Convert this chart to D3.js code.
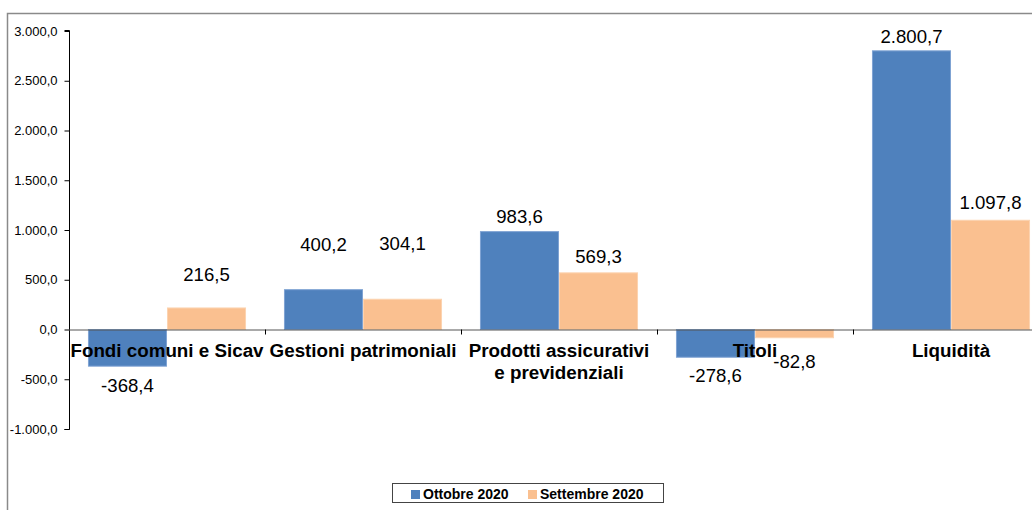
<!DOCTYPE html>
<meta charset="utf-8">
<style>
  body { margin: 0; background: #fff; }
  svg { display: block; font-family: "Liberation Sans", Arial, sans-serif; }
  .tick-label { font-size: 13px; fill: #000; }
  .value-label { font-size: 18.6px; fill: #000; }
  .cat-label { font-size: 18.8px; font-weight: bold; fill: #000; }
  .legend text { font-size: 14px; font-weight: bold; fill: #000; }
</style>
<svg width="1032" height="510"></svg>
<script src="https://d3js.org/d3.v7.min.js"></script>
<script>

  // data
  var categories = ["Fondi comuni e Sicav", "Gestioni patrimoniali", "Prodotti assicurativi\ne previdenziali", "Titoli", "Liquidità"];
  var seriesNames = ["Ottobre 2020", "Settembre 2020"];
  var ottobre = [-368.4, 400.2, 983.6, -278.6, 2800.7];
  var settembre = [216.5, 304.1, 569.3, -82.8, 1097.8];
  var yTicks = [-1000, -500, 0, 500, 1000, 1500, 2000, 2500, 3000];

  // label nudges (px away from the bar end), as placed in the original
  var gapOttobre = [26, 39, 9, 25, 8];
  var gapSettembre = [27, 49, 10, 30, 11];

  var colors = ["#4F81BD", "#FAC090"];
  var edges = ["#7FA3D3", "#FCD3B0"];

  var svg = d3.select("svg");

  var fmt = d3.formatLocale({ decimal: ",", thousands: ".", grouping: [3], currency: ["", "€"], minus: "-" });
  var tickFmt = fmt.format(",.1f");

  var x0 = d3.scaleBand()
    .domain(d3.range(categories.length))
    .range([69, 1049])
    .padding(0);

  var x1 = d3.scaleBand()
    .domain(d3.range(seriesNames.length))
    .range([0, x0.bandwidth()])
    .paddingInner(0)
    .paddingOuter(0.24);

  var y = d3.scaleLinear()
    .domain([-1000, 3000])
    .range([429, 31]);

  // outer frame (cut off at right/bottom)
  svg.append("path")
    .attr("d", "M7.5,510V13.5H1032")
    .attr("fill", "none")
    .attr("stroke", "#8a8a8a")
    .attr("stroke-width", 1.5);

  // bars
  var rows = [ottobre, settembre];
  var gaps = [gapOttobre, gapSettembre];
  var barData = [];
  rows.forEach(function (vals, s) {
    vals.forEach(function (v, i) {
      barData.push({ s: s, i: i, v: v, gap: gaps[s][i] });
    });
  });

  svg.append("g")
    .attr("class", "bars")
    .selectAll("rect")
    .data(barData)
    .enter().append("rect")
    .attr("x", function (d) { return x0(d.i) + x1(d.s) + 0.5; })
    .attr("width", x1.bandwidth() - 1)
    .attr("y", function (d) { return Math.min(y(d.v), y(0)); })
    .attr("height", function (d) { return Math.abs(y(d.v) - y(0)); })
    .attr("fill", function (d) { return colors[d.s]; })
    .attr("stroke", function (d) { return edges[d.s]; })
    .attr("stroke-width", 1);

  // y axis
  var yAxis = d3.axisLeft(y)
    .tickValues(yTicks)
    .tickSize(5)
    .tickPadding(7)
    .tickFormat(tickFmt);

  var ya = svg.append("g")
    .attr("transform", "translate(69.5,0)")
    .call(yAxis);
  ya.select(".domain").attr("stroke", "#000").attr("d", "M-5," + (y(-1000) + 0.5) + "H0V" + (y(3000) - 0.5) + "H-5");
  ya.selectAll(".tick line").attr("stroke", "#000");
  ya.selectAll(".tick text")
    .attr("class", "tick-label")
    .attr("font-family", null)
    .attr("font-size", null);

  // zero line with category ticks
  svg.append("line")
    .attr("x1", 69).attr("x2", 1032)
    .attr("y1", y(0) + 0.5).attr("y2", y(0) + 0.5)
    .attr("stroke", "#555").attr("stroke-width", 1);

  svg.append("g")
    .selectAll("line")
    .data(d3.range(1, categories.length))
    .enter().append("line")
    .attr("x1", function (d) { return Math.round(x0(d)) + 0.5; })
    .attr("x2", function (d) { return Math.round(x0(d)) + 0.5; })
    .attr("y1", y(0))
    .attr("y2", y(0) + 5)
    .attr("stroke", "#000");

  // category labels
  svg.append("g")
    .selectAll("text")
    .data(categories)
    .enter().append("text")
    .attr("class", "cat-label")
    .attr("text-anchor", "middle")
    .attr("x", function (d, i) { return x0(i) + x0.bandwidth() / 2; })
    .attr("y", 357)
    .each(function (d) {
      var t = d3.select(this);
      d.split("\n").forEach(function (line, k) {
        t.append("tspan")
          .attr("x", t.attr("x"))
          .attr("dy", k === 0 ? 0 : 22)
          .text(line);
      });
    });

  // value labels
  svg.append("g")
    .selectAll("text")
    .data(barData)
    .enter().append("text")
    .attr("class", "value-label")
    .attr("text-anchor", "middle")
    .attr("x", function (d) { return x0(d.i) + x1(d.s) + x1.bandwidth() / 2; })
    .attr("y", function (d) {
      return d.v >= 0 ? y(d.v) - d.gap : y(d.v) + d.gap;
    })
    .text(function (d) { return tickFmt(d.v); });

  // legend
  var legend = svg.append("g").attr("class", "legend");
  legend.append("rect")
    .attr("x", 392.5).attr("y", 483.5)
    .attr("width", 271).attr("height", 19)
    .attr("fill", "#fff")
    .attr("stroke", "#444").attr("stroke-width", 1);

  var legendX = [411, 528];
  var item = legend.selectAll("g.item")
    .data(seriesNames)
    .enter().append("g")
    .attr("class", "item")
    .attr("transform", function (d, i) { return "translate(" + legendX[i] + ",0)"; });
  item.append("rect")
    .attr("x", 0).attr("y", 490)
    .attr("width", 9).attr("height", 9)
    .attr("fill", function (d, i) { return colors[i]; });
  item.append("text")
    .attr("x", 12).attr("y", 499)
    .text(function (d) { return d; });

</script>
